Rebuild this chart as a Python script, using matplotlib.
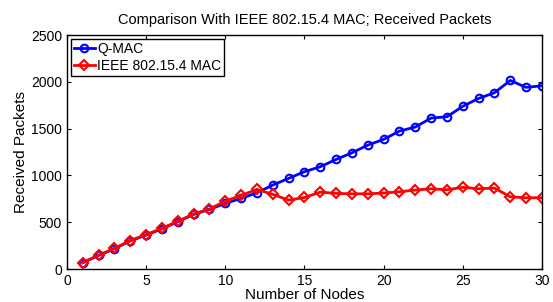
import matplotlib.pyplot as plt
import numpy as np

plt.rcParams['font.family'] = ['Liberation Sans', 'DejaVu Sans']

# Data
nodes = list(range(1, 31))
qmac = [67, 146, 217, 302, 363, 430, 505, 584, 637, 702,
        755, 815, 897, 969, 1040, 1093, 1171, 1242, 1324, 1385,
        1474, 1517, 1613, 1627, 1738, 1823, 1883, 2015, 1941, 1958]
ieee = [70, 148, 220, 305, 368, 435, 510, 588, 642, 726,
        787, 851, 798, 737, 765, 822, 808, 804, 804, 812,
        826, 844, 858, 847, 873, 858, 865, 772, 762, 762]

fig = plt.figure(figsize=(5.53, 3.02), dpi=100)
ax = fig.add_axes([0.121, 0.109, 0.859, 0.775])

ax.plot(nodes, qmac, color='blue', linewidth=2, marker='o', markersize=5.5,
        markerfacecolor='none', markeredgewidth=1.5, label='Q-MAC')
ax.plot(nodes, ieee, color='red', linewidth=2, marker='D', markersize=5,
        markerfacecolor='none', markeredgewidth=1.5, label='IEEE 802.15.4 MAC')

ax.set_xlim(0, 30)
ax.set_ylim(0, 2500)
ax.set_xticks(np.arange(0, 31, 5))
ax.set_yticks(np.arange(0, 2501, 500))
ax.tick_params(direction='in', top=True, right=True, labelsize=10, length=3)
for s in ax.spines.values():
    s.set_linewidth(1)

ax.set_xlabel('Number of Nodes', fontsize=11, labelpad=0)
ax.set_ylabel('Received Packets', fontsize=11, labelpad=2)
ax.set_title('Comparison With IEEE 802.15.4 MAC; Received Packets', fontsize=10.5, pad=8)

leg = ax.legend(loc='upper left', fontsize=10, fancybox=False, framealpha=1,
                edgecolor='black', borderpad=0.2, labelspacing=0.2,
                handlelength=1.5, handletextpad=0.2, borderaxespad=0.3)
leg.get_frame().set_linewidth(1)

fig.savefig('out.png', dpi=100)
